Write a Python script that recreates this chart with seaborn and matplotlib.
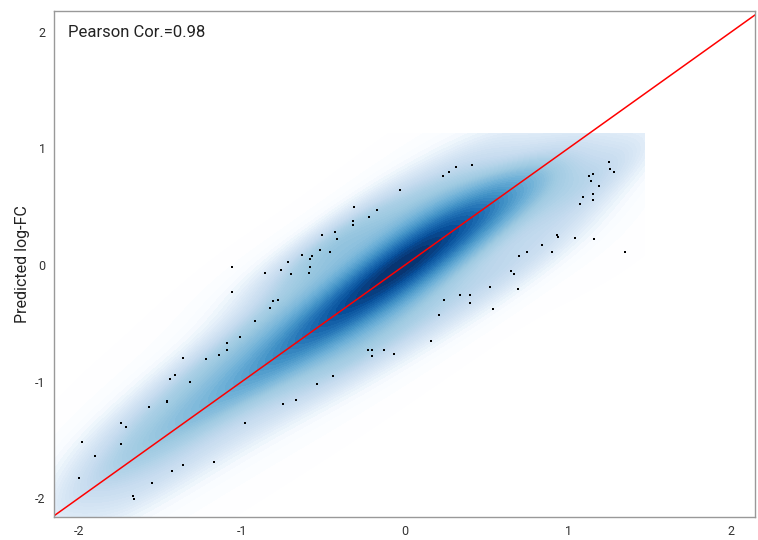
import numpy as np
import pandas as pd
import seaborn as sns
import matplotlib
matplotlib.use("Agg")
import matplotlib.pyplot as plt
from matplotlib.colors import LinearSegmentedColormap

# ==== data ====
# ridge of the dense band (centre y and relative intensity at each x)
ridge_x = [-2.1, -1.9, -1.7, -1.5, -1.3, -1.1, -0.9, -0.7, -0.5, -0.3,
           -0.1, 0.1, 0.3, 0.5, 0.7, 0.9, 1.1, 1.3, 1.45]
ridge_y = [-2.08, -1.88, -1.69, -1.49, -1.29, -1.09, -0.89, -0.69, -0.49, -0.29,
           -0.08, 0.11, 0.3, 0.48, 0.64, 0.78, 0.9, 0.98, 1.02]
ridge_w = [0.32, 0.34, 0.37, 0.4, 0.44, 0.48, 0.55, 0.64, 0.77, 0.9,
           1.0, 1.0, 0.88, 0.7, 0.52, 0.38, 0.27, 0.2, 0.15]
# vertical profile across the band
band_dy = [-1.2, -1.05, -0.9, -0.75, -0.6, -0.45, -0.3, -0.15, 0.0,
           0.15, 0.3, 0.45, 0.6, 0.75, 0.9, 1.05, 1.2]
band_p = [0.01, 0.03, 0.06, 0.11, 0.18, 0.27, 0.4, 0.62, 1.0,
          0.62, 0.4, 0.27, 0.18, 0.11, 0.06, 0.03, 0.01]

# sparse points drawn in black
out_x = [0.27, 0.23, -0.03, -0.31, -0.17, -0.22, -0.32, -0.32, -0.43, -0.51, -0.42, -0.52,
         -0.46, -0.63, -0.57, -0.58,
         0.31, 0.41, 1.25, 1.26, 1.28, 1.15, 1.13, 1.14, 1.19, 1.15, 1.09, 1.15, 1.07,
         0.93, 0.94, 1.04, 1.16, 0.84, 0.90, 0.75, 0.70, 1.35,
         -1.06, -1.06, -1.01, -1.09, -1.09, -1.14, -1.22, -1.36, -1.41, -1.44, -1.32,
         -0.72, -0.58, -0.86, -0.76, -0.70, -0.59, -0.78, -0.81, -0.83, -0.92, 0.24, 0.21,
         0.16, -0.23, -0.20, -0.20, -0.13, -0.07, -0.44, -0.54,
         0.65, 0.67, 0.52, 0.69, 0.34, 0.40, 0.40, 0.54,
         -1.46, -1.46, -1.57, -1.74, -1.71, -1.98, -1.74, -1.90, -2.00, -0.98, -1.17,
         -1.36, -1.43, -1.55, -1.67, -1.66,
         -0.75, -0.67]
out_y = [0.80, 0.76, 0.64, 0.50, 0.47, 0.41, 0.38, 0.34, 0.28, 0.26, 0.22, 0.13,
         0.11, 0.09, 0.08, 0.05,
         0.84, 0.86, 0.88, 0.82, 0.80, 0.78, 0.76, 0.72, 0.68, 0.61, 0.58, 0.56, 0.52,
         0.26, 0.24, 0.23, 0.22, 0.17, 0.11, 0.11, 0.08, 0.11,
         -0.02, -0.23, -0.62, -0.67, -0.73, -0.77, -0.81, -0.80, -0.94, -0.98, -1.00,
         0.03, -0.02, -0.07, -0.04, -0.08, -0.07, -0.30, -0.31, -0.37, -0.48, -0.30, -0.43,
         -0.65, -0.73, -0.73, -0.78, -0.73, -0.76, -0.95, -1.02,
         -0.05, -0.08, -0.19, -0.21, -0.26, -0.26, -0.33, -0.38,
         -1.17, -1.18, -1.22, -1.36, -1.39, -1.52, -1.54, -1.64, -1.83, -1.36, -1.69,
         -1.72, -1.77, -1.87, -1.98, -2.01,
         -1.19, -1.16]
out_w = 0.1
pearson = 0.98

# ==== table for the density ====
rows = []
for x0, y0, w0 in zip(ridge_x, ridge_y, ridge_w):
    for dy, p in zip(band_dy, band_p):
        rows.append((x0, y0 + dy, w0 * p))
for xo, yo in zip(out_x, out_y):
    rows.append((xo, yo, out_w))
dens = pd.DataFrame(rows, columns=["obs", "pred", "w"])
pts = pd.DataFrame({"obs": out_x, "pred": out_y})

blues9 = ["#F7FBFF", "#DEEBF7", "#C6DBEF", "#9ECAE1", "#6BAED6",
          "#4292C6", "#2171B5", "#08519C", "#08306B"]
ramp = LinearSegmentedColormap.from_list("ramp", ["white"] + blues9)

sns.set_style("white")
plt.rcParams["font.family"] = ["Roboto", "DejaVu Sans"]
plt.rcParams["axes.unicode_minus"] = False

fig = plt.figure(figsize=(7.58, 5.40), dpi=100)
ax = fig.add_axes([0.0712, 0.0426, 0.925, 0.937])

sns.kdeplot(data=dens, x="obs", y="pred", weights="w", fill=True, levels=60, thresh=0.004,
            cmap=ramp, bw_adjust=0.8, gridsize=200,
            clip=((-2.15, 1.47), (-2.17, 1.13)), ax=ax)
sns.scatterplot(data=pts, x="obs", y="pred", marker="s", s=2.2, color="black",
                linewidth=0, ax=ax)
ax.axline((0, 0), slope=1, color="red", lw=1.1)

ax.set_xlim(-2.153, 2.147)
ax.set_ylim(-2.163, 2.18)
ax.set_xticks([-2, -1, 0, 1, 2])
ax.set_yticks([-2, -1, 0, 1, 2])
ax.tick_params(length=0, labelsize=9, colors="#333333")
ax.tick_params(axis="x", pad=6)
ax.tick_params(axis="y", pad=6)
ax.set_xlabel("")
ax.set_ylabel("Predicted log-FC", fontsize=11.5, color="#222222", labelpad=4)
for s in ax.spines.values():
    s.set_color("#999999")
    s.set_linewidth(1)
ax.text(0.02, 0.958, f"Pearson Cor.={pearson}", transform=ax.transAxes,
        fontsize=12, va="center", ha="left", color="#222222")

fig.savefig("out.png", dpi=100)
